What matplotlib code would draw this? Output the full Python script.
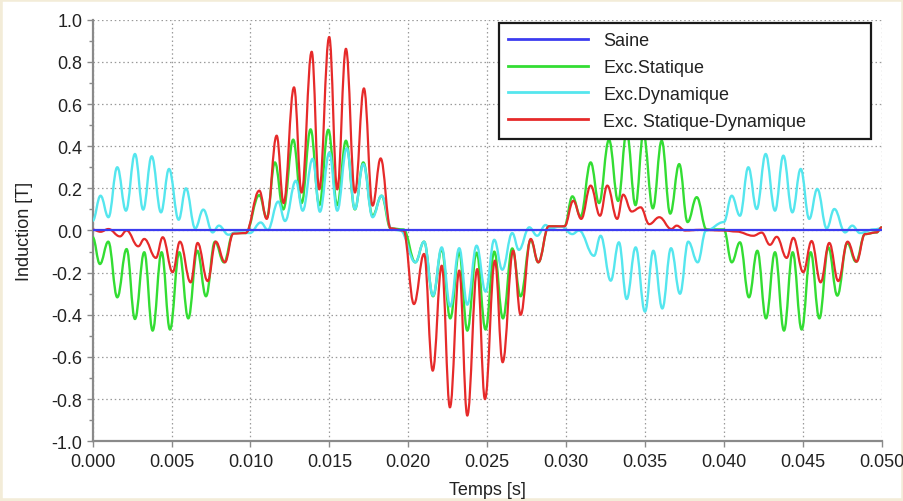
import matplotlib
matplotlib.use('Agg')
import matplotlib.pyplot as plt
from matplotlib.path import Path
from matplotlib.patches import PathPatch, Rectangle
from matplotlib.lines import Line2D

plt.rcParams['font.family'] = ['Liberation Sans', 'DejaVu Sans']
plt.rcParams['axes.unicode_minus'] = False

# ---------------- data (local extrema) ----------------
labels = ["Saine", "Exc.Statique", "Exc.Dynamique", "Exc. Statique-Dynamique"]
colors = ["#3c3cf0", "#33dd33", "#55e6ee", "#e62a2a"]

t_saine = [0.0, 0.05]
b_saine = [0.0, 0.0]

t_stat = [0.0, 0.00046, 0.00099, 0.00156, 0.00215, 0.00268, 0.00327, 0.0038, 0.00437, 0.0049,
          0.00549, 0.00606, 0.00663, 0.00718, 0.00775, 0.00832, 0.00891, 0.0097,
          0.01056, 0.01103, 0.01155, 0.01208, 0.01271, 0.01324, 0.01381, 0.01436, 0.01493,
          0.0155, 0.01605, 0.01662, 0.01715, 0.01774, 0.01831, 0.01888, 0.0197,
          0.02045, 0.021, 0.02157, 0.02212, 0.02266, 0.02323, 0.02374, 0.02433, 0.0249,
          0.02545, 0.026, 0.02659, 0.02712, 0.02776, 0.02824, 0.0289, 0.0299,
          0.0304, 0.03092, 0.03156, 0.03209, 0.03272, 0.0333, 0.03384, 0.0344, 0.0349,
          0.0355, 0.03606, 0.0366, 0.03717, 0.0377, 0.03828, 0.0389, 0.0400,
          0.0405, 0.04102, 0.04159, 0.04212, 0.04267, 0.04324, 0.04381, 0.04436, 0.04493,
          0.0455, 0.04605, 0.04662, 0.04719, 0.04782, 0.04837, 0.04894, 0.04968, 0.0500]
b_stat = [-0.032, -0.159, -0.053, -0.317, -0.088, -0.42, -0.103, -0.475, -0.103, -0.47,
          -0.103, -0.417, -0.096, -0.312, -0.053, -0.151, -0.012, -0.012,
          0.168, 0.06, 0.323, 0.10, 0.431, 0.13, 0.48, 0.12, 0.478,
          0.12, 0.426, 0.10, 0.323, 0.07, 0.165, 0.01, 0.005,
          -0.151, -0.053, -0.312, -0.088, -0.417, -0.103, -0.475, -0.105, -0.47,
          -0.10, -0.417, -0.085, -0.312, -0.045, -0.151, 0.02, 0.02,
          0.162, 0.067, 0.323, 0.13, 0.43, 0.14, 0.47, 0.12, 0.46,
          0.105, 0.426, 0.08, 0.315, 0.04, 0.158, 0.005, 0.005,
          -0.151, -0.056, -0.317, -0.096, -0.417, -0.103, -0.475, -0.103, -0.47,
          -0.103, -0.417, -0.08, -0.309, -0.059, -0.148, -0.017, -0.009, 0.015]

t_dyn = [0.0, 0.0005, 0.0010, 0.00156, 0.00211, 0.00268, 0.0032, 0.00374, 0.00433, 0.00484,
         0.00545, 0.00591, 0.0065, 0.00701, 0.0076, 0.0080, 0.0086, 0.0091, 0.00997,
         0.01065, 0.0111, 0.01176, 0.01219, 0.01288, 0.01331, 0.01394, 0.0144, 0.015,
         0.0155, 0.0161, 0.01662, 0.01715, 0.01774, 0.01831, 0.01895, 0.0195,
         0.02045, 0.021, 0.02157, 0.02212, 0.02266, 0.02323, 0.02374, 0.02433, 0.0249,
         0.02545, 0.02596, 0.02659, 0.02701, 0.02767, 0.02817, 0.0287, 0.02902, 0.02966,
         0.0304, 0.03082, 0.03177, 0.03219, 0.03283, 0.03335, 0.03384, 0.03441, 0.035,
         0.03553, 0.0361, 0.03665, 0.03722, 0.03774, 0.03834, 0.03887, 0.0400,
         0.0405, 0.04102, 0.04155, 0.04208, 0.04265, 0.04324, 0.04377, 0.04434, 0.04487,
         0.04541, 0.04592, 0.04652, 0.047, 0.04768, 0.04814, 0.04862, 0.0495, 0.0500]
b_dyn = [0.046, 0.165, 0.063, 0.30, 0.094, 0.363, 0.099, 0.352, 0.086, 0.292,
         0.051, 0.20, 0.01, 0.099, -0.009, 0.023, -0.02, -0.009, -0.012,
         0.038, 0.003, 0.137, 0.045, 0.236, 0.094, 0.34, 0.089, 0.37,
         0.094, 0.39, 0.102, 0.315, 0.063, 0.165, 0.007, 0.0,
         -0.151, -0.053, -0.309, -0.08, -0.36, -0.084, -0.352, -0.072, -0.29,
         -0.044, -0.186, -0.012, -0.092, 0.015, -0.025, 0.026, 0.01, 0.02,
         -0.017, 0.0, -0.12, -0.025, -0.238, -0.056, -0.325, -0.08, -0.385,
         -0.096, -0.37, -0.084, -0.30, -0.053, -0.151, 0.0, 0.04,
         0.165, 0.07, 0.30, 0.102, 0.363, 0.094, 0.355, 0.086, 0.292,
         0.055, 0.197, 0.01, 0.102, -0.009, 0.023, -0.012, 0.005, 0.01]

t_sd = [0.0, 0.0005, 0.0010, 0.00173, 0.00215, 0.00289, 0.00327, 0.00401, 0.00444, 0.00507,
        0.00553, 0.00621, 0.00665, 0.00729, 0.0078, 0.00838, 0.00891, 0.0097,
        0.01056, 0.01103, 0.01166, 0.0121, 0.01276, 0.01324, 0.01388, 0.01436, 0.01499,
        0.0155, 0.01605, 0.01662, 0.01719, 0.01774, 0.01825, 0.01888, 0.0197,
        0.02036, 0.021, 0.02155, 0.02212, 0.02264, 0.02323, 0.02374, 0.02437, 0.02486,
        0.02549, 0.02598, 0.02665, 0.02712, 0.02776, 0.02824, 0.0289, 0.0299,
        0.03046, 0.03096, 0.03156, 0.03215, 0.03261, 0.03324, 0.03362, 0.03416, 0.03473,
        0.03527, 0.03591, 0.03667, 0.03701, 0.03754, 0.0385, 0.0400,
        0.0408, 0.04186, 0.0424, 0.04292, 0.04335, 0.04398, 0.0444, 0.04503, 0.04556,
        0.04613, 0.04668, 0.04725, 0.04784, 0.04841, 0.04894, 0.04968, 0.0500]
b_sd = [0.004, -0.006, 0.007, -0.028, 0.0, -0.075, -0.04, -0.13, -0.032, -0.198,
        -0.053, -0.246, -0.059, -0.24, -0.053, -0.151, -0.015, -0.012,
        0.189, 0.055, 0.45, 0.13, 0.679, 0.18, 0.848, 0.195, 0.918,
        0.195, 0.862, 0.18, 0.674, 0.118, 0.342, 0.01, 0.0,
        -0.349, -0.111, -0.665, -0.167, -0.839, -0.19, -0.878, -0.183, -0.80,
        -0.143, -0.625, -0.096, -0.40, -0.04, -0.151, 0.02, 0.02,
        0.141, 0.055, 0.213, 0.07, 0.213, 0.055, 0.17, 0.09, 0.11,
        0.03, 0.063, 0.007, 0.023, 0.0, 0.003, 0.0,
        -0.005, -0.025, -0.01, -0.068, -0.03, -0.13, -0.035, -0.198, -0.05,
        -0.246, -0.059, -0.24, -0.053, -0.148, -0.017, -0.009, 0.015]

x_ticks = [0.000, 0.005, 0.010, 0.015, 0.020, 0.025, 0.030, 0.035, 0.040, 0.045, 0.050]
y_ticks = [-1.0, -0.8, -0.6, -0.4, -0.2, 0.0, 0.2, 0.4, 0.6, 0.8, 1.0]

# ---------------- figure ----------------
fig = plt.figure(figsize=(9.04, 5.02), dpi=100)
fig.patch.set_facecolor('white')
fig.patches.append(Rectangle((0, 0), 1, 1, transform=fig.transFigure, fill=False,
                             edgecolor='#f3ecd8', lw=4, zorder=-1))
ax = fig.add_axes([0.1025, 0.1189, 0.8728, 0.8399])


def smooth_curve(ax, t, b, color, lw, z):
    # smooth path through the read extrema (horizontal tangents at each extremum)
    verts = [(t[0], b[0])]
    codes = [Path.MOVETO]
    for i in range(1, len(t)):
        dt = t[i] - t[i - 1]
        verts += [(t[i - 1] + 0.4 * dt, b[i - 1]), (t[i] - 0.4 * dt, b[i]), (t[i], b[i])]
        codes += [Path.CURVE4] * 3
    ax.add_patch(PathPatch(Path(verts, codes), fill=False, edgecolor=color, lw=lw,
                           zorder=z, joinstyle='round', capstyle='round'))


smooth_curve(ax, t_stat, b_stat, colors[1], 1.7, 3)
smooth_curve(ax, t_dyn, b_dyn, colors[2], 1.7, 4)
smooth_curve(ax, t_sd, b_sd, colors[3], 1.6, 5)
ax.plot(t_saine, b_saine, color=colors[0], lw=1.6, zorder=6)

ax.set_xlim(0, 0.05)
ax.set_ylim(-1.0, 1.0)
ax.set_xticks(x_ticks)
ax.set_xticklabels([f"{v:.3f}" for v in x_ticks])
ax.set_yticks(y_ticks)
ax.set_yticklabels([f"{v:.1f}" for v in y_ticks])
ax.set_yticks([v / 10 for v in range(-9, 10, 2)], minor=True)

ax.grid(True, which='major', color='#9a9a9a', linestyle=(0, (1.2, 2.2)), lw=0.9)
for s in ['top', 'right']:
    ax.spines[s].set_visible(False)
for s in ['left', 'bottom']:
    ax.spines[s].set_color('#8a8a8a')
    ax.spines[s].set_linewidth(1.6)
ax.tick_params(which='major', direction='out', length=4, width=1, color='#8a8a8a',
               labelsize=13, labelcolor='#222222')
ax.tick_params(axis='x', which='major', pad=4.5)
ax.tick_params(which='minor', direction='out', length=3, width=1, color='#8a8a8a')

ax.set_xlabel("Temps [s]", fontsize=13, color='#222222', labelpad=8)
ax.set_ylabel("Induction [T]", fontsize=13, color='#222222', labelpad=13)

handles = [Line2D([], [], color=c, lw=2.0) for c in colors]
leg = ax.legend(handles, labels, loc='upper left', bbox_to_anchor=(0.5153, 0.7249, 0.4708, 0.2666),
                mode='expand', borderaxespad=0, fontsize=13, handlelength=4.4,
                handletextpad=0.85, labelspacing=0.54, borderpad=0.5,
                fancybox=False, framealpha=1, edgecolor='#1a1a1a')
leg.get_frame().set_linewidth(1.6)
for txt in leg.get_texts():
    txt.set_color('#222222')

fig.savefig('out.png', dpi=100)
